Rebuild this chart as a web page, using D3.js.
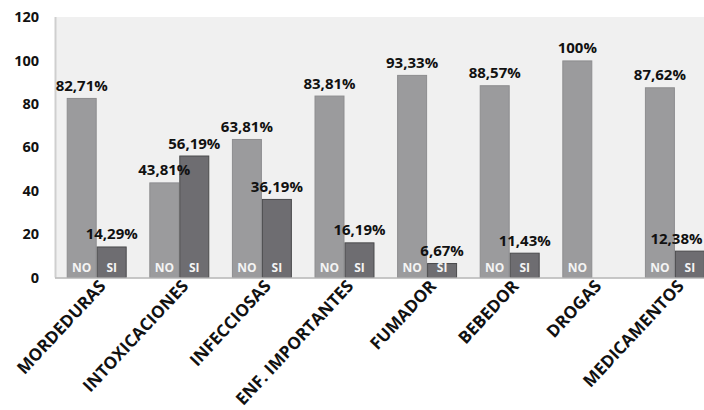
<!DOCTYPE html>
<html><head><meta charset="utf-8">
<script src="https://cdn.jsdelivr.net/npm/d3@7/dist/d3.min.js"></script>
<style>
html,body{margin:0;padding:0;background:#fff;}
svg{display:block;}
text{font-family:"Open Sans",sans-serif;font-weight:700;}
</style></head>
<body>
<script>
const categories = ["MORDEDURAS","INTOXICACIONES","INFECCIOSAS","ENF. IMPORTANTES","FUMADOR","BEBEDOR","DROGAS","MEDICAMENTOS"];
const seriesNames = ["NO","SI"];
const noValues = [82.71, 43.81, 63.81, 83.81, 93.33, 88.57, 100, 87.62];
const siValues = [14.29, 56.19, 36.19, 16.19, 6.67, 11.43, null, 12.38];
const noLabels = ["82,71%","43,81%","63,81%","83,81%","93,33%","88,57%","100%","87,62%"];
const siLabels = ["14,29%","56,19%","36,19%","16,19%","6,67%","11,43%","","12,38%"];
const yTicks = [0,20,40,60,80,100,120];

const W = 704, H = 410;
const plot = {left:55, right:704, top:17, bottom:277.5};

const svg = d3.select("body").append("svg").attr("width",W).attr("height",H);

const y = d3.scaleLinear().domain([0,120]).range([plot.bottom, plot.top]);
const step = 82.6;
const x0 = d3.scaleBand().domain(categories)
  .range([plot.left+0.4, plot.left+0.4+step*categories.length])
  .paddingInner(0.274).paddingOuter(0.137);
const x1 = d3.scaleBand().domain(seriesNames).range([0, x0.bandwidth()]);

// plot area background
svg.append("rect").attr("x",plot.left).attr("y",plot.top)
  .attr("width",plot.right-plot.left).attr("height",plot.bottom-plot.top)
  .attr("fill","#f0f0f0");
svg.append("line").attr("x1",plot.left+0.5).attr("x2",plot.left+0.5)
  .attr("y1",plot.top).attr("y2",plot.bottom)
  .attr("stroke","#cfcfcf").attr("stroke-width",2);

// y axis tick labels
const yAxis = d3.axisLeft(y).tickValues(yTicks).tickSize(0).tickPadding(0);
const ga = svg.append("g").attr("transform","translate(39,0)").call(yAxis);
ga.select(".domain").remove();
ga.selectAll("text").attr("font-size",14.5).attr("fill","#111")
  .style("font-family","'Open Sans',sans-serif").style("font-weight",700);

const rows = categories.map((c,i)=>({c, no:noValues[i], si:siValues[i], nl:noLabels[i], sl:siLabels[i]}));
const colors = {NO:"#9b9b9d", SI:"#6e6d71"};
const strokes = {NO:"#8d8d8f", SI:"#4a4a4c"};

const bars = [];
rows.forEach(r=>{
  [["NO",r.no,r.nl],["SI",r.si,r.sl]].forEach(([s,v,lab])=>{
    if(v==null) return;
    bars.push({c:r.c, s, v, lab});
  });
});

const gb = svg.append("g");
gb.selectAll("rect").data(bars).join("rect")
  .attr("x",d=>x0(d.c)+x1(d.s)+0.5).attr("y",d=>y(d.v)+0.5)
  .attr("width",x1.bandwidth()-1).attr("height",d=>y(0)-y(d.v)-0.5)
  .attr("fill",d=>colors[d.s]).attr("stroke",d=>strokes[d.s]).attr("stroke-width",1);

// baseline
svg.append("line").attr("x1",plot.left).attr("x2",plot.right)
  .attr("y1",plot.bottom+0.5).attr("y2",plot.bottom+0.5)
  .attr("stroke","#b5b5b5").attr("stroke-width",1.5);

// series labels inside bars
svg.append("g").selectAll("text").data(bars).join("text")
  .attr("x",d=>x0(d.c)+x1(d.s)+x1.bandwidth()/2).attr("y",272)
  .attr("text-anchor","middle").attr("font-size",12).attr("fill","#f4f4f4").text(d=>d.s);

// value labels (kept inside the picture's right edge)
svg.append("g").selectAll("text").data(bars).join("text")
  .attr("x",d=>x0(d.c)+x1(d.s)+x1.bandwidth()/2).attr("y",d=>y(d.v)-7)
  .attr("text-anchor","middle").attr("font-size",15).attr("fill","#111").text(d=>d.lab)
  .each(function(){
    const b = this.getBBox();
    if(b.x + b.width > W - 1){
      d3.select(this).attr("x", +d3.select(this).attr("x") - (b.x + b.width - (W - 1)));
    }
  });

// category labels
svg.append("g").selectAll("text").data(categories).join("text")
  .attr("transform",d=>`translate(${x0(d)+x0.bandwidth()/2+10},287) rotate(-47)`)
  .attr("text-anchor","end").attr("font-size",17).attr("fill","#111")
  .text(d=>d);
</script>
</body></html>
